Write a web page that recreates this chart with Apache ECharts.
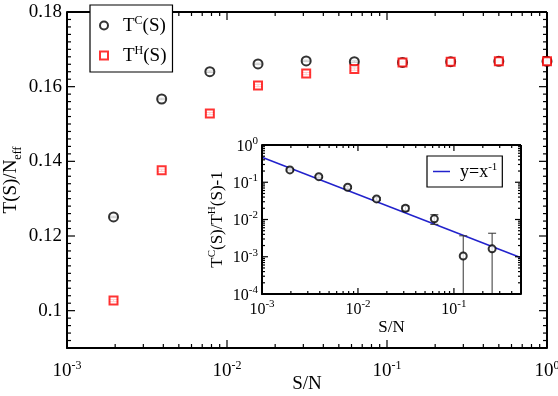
<!DOCTYPE html>
<html><head><meta charset="utf-8">
<script src="https://cdn.jsdelivr.net/npm/echarts@6/dist/echarts.min.js"></script>
<style>html,body{margin:0;padding:0;background:#fff}#c{width:558px;height:396px}</style>
</head><body><div id="c"></div>
<script>
// ---- data ----
const sizeRatio = [0.001953125, 0.00390625, 0.0078125, 0.015625, 0.03125, 0.0625, 0.125, 0.25, 0.5, 1];
const tCold = [0.1251, 0.1567, 0.1640, 0.1661, 0.1669, 0.1667, 0.1665, 0.1667, 0.1668, 0.1668];
const tColdErr = [0.0002, 0.0002, 0.0002, 0.0002, 0.0002, 0.0002, 0.0002, 0.0002, 0.0002, 0.0002];
const tHot = [0.1027, 0.1376, 0.1528, 0.1603, 0.1635, 0.1647, 0.1665, 0.1667, 0.1668, 0.1668];
const tHotErr = [0.0003, 0.0003, 0.0003, 0.0003, 0.0003, 0.0003, 0.0003, 0.0003, 0.0003, 0.0003];
const insetX = [0.001953125, 0.00390625, 0.0078125, 0.015625, 0.03125, 0.0625, 0.125, 0.25];
const insetRatio = [0.214, 0.141, 0.0735, 0.0357, 0.020, 0.0104, 0.00105, 0.00163];
const insetErr = [0.012, 0.008, 0.005, 0.003, 0.003, 0.003, 0.0026, 0.00265];
const fitX = [0.001, 0.5];
const fitY = [0.47, 0.00094];
const mainYLabels = [0.1, 0.12, 0.14, 0.16, 0.18];
const mainXExp = [-3, -2, -1, 0];
const insetXExp = [-3, -2, -1];
const insetYExp = [-4, -3, -2, -1, 0];

// ---- helpers ----
const FONT = 'Liberation Serif';
const L = Math.log10;
function logMinor(d0, d1, maxV) {
  const out = [];
  for (let d = d0; d < d1; d++) for (let k = 2; k <= 9; k++) {
    const v = d + L(k);
    if (maxV === undefined || v <= maxV + 1e-9) out.push(v);
  }
  return out;
}
function rich(big, small, sup) {
  return {
    b: {fontFamily: FONT, fontSize: big, color: '#000', verticalAlign: 'bottom'},
    s: {fontFamily: FONT, fontSize: small, color: '#000', verticalAlign: 'bottom', padding: [0, 0, sup, 0]}
  };
}
function mainYMinor() {
  const out = [];
  for (let i = 1; i < 45; i++) { if (i % 10 !== 5) out.push(+(0.09 + i * 0.002).toFixed(4)); }
  return out;
}

function errRender(cap, color) {
  return function (params, api) {
    const x = api.value(0), lo = api.value(1), hi = api.value(2), clamped = api.value(3);
    const p1 = api.coord([x, lo]), p2 = api.coord([x, hi]);
    const st = {stroke: color, lineWidth: 1};
    const ch = [
      {type: 'line', shape: {x1: p1[0], y1: p1[1], x2: p2[0], y2: p2[1]}, style: st},
      {type: 'line', shape: {x1: p2[0] - cap, y1: p2[1], x2: p2[0] + cap, y2: p2[1]}, style: st}
    ];
    if (!clamped) ch.push({type: 'line', shape: {x1: p1[0] - cap, y1: p1[1], x2: p1[0] + cap, y2: p1[1]}, style: st});
    return {type: 'group', children: ch};
  };
}

// frame + inward ticks on all four sides, placed through the axes' scales (api.coord only)
function frameRender(x0, x1, y0, y1) {
  return function (params, api) {
    const dir = api.value(2), len = api.value(3);
    const st = {stroke: '#000', lineWidth: 1.2};
    if (dir === 0) {
      const v = api.value(0);
      const pb = api.coord([v, y0]), pt = api.coord([v, y1]);
      return {type: 'group', children: [
        {type: 'line', shape: {x1: pb[0], y1: pb[1], x2: pb[0], y2: pb[1] - len}, style: st},
        {type: 'line', shape: {x1: pt[0], y1: pt[1], x2: pt[0], y2: pt[1] + len}, style: st}]};
    }
    if (dir === 1) {
      const v = api.value(1);
      const pl = api.coord([x0, v]), pr = api.coord([x1, v]);
      return {type: 'group', children: [
        {type: 'line', shape: {x1: pl[0], y1: pl[1], x2: pl[0] + len, y2: pl[1]}, style: st},
        {type: 'line', shape: {x1: pr[0], y1: pr[1], x2: pr[0] - len, y2: pr[1]}, style: st}]};
    }
    const a = api.coord([x0, y1]), c = api.coord([x1, y0]);
    const fs = {stroke: '#000', lineWidth: 2};
    return {type: 'group', children: [
      {type: 'line', shape: {x1: a[0], y1: a[1], x2: c[0], y2: a[1]}, style: fs},
      {type: 'line', shape: {x1: c[0], y1: a[1], x2: c[0], y2: c[1]}, style: fs},
      {type: 'line', shape: {x1: a[0], y1: c[1], x2: c[0], y2: c[1]}, style: fs},
      {type: 'line', shape: {x1: a[0], y1: a[1], x2: a[0], y2: c[1]}, style: fs}]};
  };
}
function frameData(xMaj, xMin, yMaj, yMin, xMid, yMid, majLen, minLen) {
  return [].concat(
    xMaj.map(v => [v, yMid, 0, majLen]), xMin.map(v => [v, yMid, 0, minLen]),
    yMaj.map(v => [xMid, v, 1, majLen]), yMin.map(v => [xMid, v, 1, minLen]),
    [[xMid, yMid, 2, 0]]);
}

function ax(grid, min, max, pos, labels, labelFn, extra) {
  return Object.assign({
    type: 'value', gridIndex: grid, min: min, max: max, position: pos,
    axisLine: {show: true, onZero: false, lineStyle: {color: '#000', width: 2}},
    splitLine: {show: false},
    axisTick: {show: false},
    axisLabel: Object.assign({show: true, customValues: labels.slice()}, labelFn())
  }, extra || {});
}

const expFmt = v => '{b|10}{s|' + Math.round(v) + '}';
const mainXLabel = () => ({margin: 12, formatter: expFmt, rich: rich(19, 12, 9)});
const insetXLabel = () => ({margin: 5, formatter: expFmt, rich: rich(16, 11, 8)});
const insetYLabel = () => ({margin: 4, formatter: expFmt, rich: rich(16, 11, 8)});
const mainYLabel = () => ({margin: 5, fontFamily: FONT, fontSize: 19, color: '#000',
  formatter: v => (Math.abs(v - 0.1) < 1e-9 ? '0.1' : v.toFixed(2))});

const insetXMax = L(0.5);

const xAxes = [
  ax(0, -3, 0, 'bottom', mainXExp, mainXLabel, {
    name: 'S/N', nameLocation: 'middle', nameGap: 27, nameMoveOverlap: false,
    nameTextStyle: {fontFamily: FONT, fontSize: 19, color: '#000'}}),
  ax(1, -3, insetXMax, 'bottom', insetXExp, insetXLabel, {
    name: 'S/N', nameLocation: 'middle', nameGap: 25, nameMoveOverlap: false,
    nameTextStyle: {fontFamily: FONT, fontSize: 17, color: '#000'}})
];
const yAxes = [
  ax(0, 0.09, 0.18, 'left', mainYLabels, mainYLabel, {
    name: '{b|T(S)/N}{u|eff}', nameLocation: 'middle', nameGap: 43, nameRotate: 90, nameMoveOverlap: false,
    nameTextStyle: {rich: {
      b: {fontFamily: FONT, fontSize: 19, color: '#000', verticalAlign: 'bottom', padding: [0, 0, 3, 0]},
      u: {fontFamily: FONT, fontSize: 12, color: '#000', verticalAlign: 'bottom'}}}}),
  ax(1, -4, 0, 'left', insetYExp, insetYLabel, {
    name: '{b|T}{s|C}{b|(S)/T}{s|H}{b|(S)-1}', nameLocation: 'middle', nameGap: 36, nameRotate: 90,
    nameMoveOverlap: false, nameTextStyle: {rich: rich(17, 11, 8)}})
];

const lx = sizeRatio.map(v => L(v));
const errC = sizeRatio.map((v, i) => [L(v), tCold[i] - tColdErr[i], tCold[i] + tColdErr[i], 0]);
const errH = sizeRatio.map((v, i) => [L(v), tHot[i] - tHotErr[i], tHot[i] + tHotErr[i], 0]);
const errI = insetX.map((v, i) => {
  const lo = insetRatio[i] - insetErr[i];
  const clamped = lo <= 1e-4;
  return [L(v), clamped ? -4 : L(lo), L(insetRatio[i] + insetErr[i]), clamped ? 1 : 0];
});
const mainFrame = frameData(mainXExp, logMinor(-3, 0), mainYLabels, mainYMinor(), -1.5, 0.135, 8, 4);
const insetFrame = frameData(insetXExp, logMinor(-3, 0, insetXMax), insetYExp, logMinor(-4, 0), -2, -2, 6, 3);

const chart = echarts.init(document.getElementById('c'));
chart.setOption({
  animation: false,
  grid: [
    {left: 67, top: 12, width: 480, height: 336, outerBoundsMode: 'none'},
    {left: 262, top: 145, width: 259, height: 149, show: true, backgroundColor: '#fff', borderWidth: 0,
      outerBoundsMode: 'none'}
  ],
  xAxis: xAxes,
  yAxis: yAxes,
  legend: [
    {
      data: ['TC', 'TH'], orient: 'vertical', left: 90, top: 5,
      padding: [10, 6, 6, 9], itemWidth: 8, itemHeight: 8, itemGap: 9,
      borderColor: '#000', borderWidth: 1.2, backgroundColor: '#fff',
      formatter: n => n === 'TC' ? '{p|}{b|T}{s|C}{b|(S)}' : '{p|}{b|T}{s|H}{b|(S)}',
      textStyle: {rich: Object.assign({p: {width: 10}}, rich(19, 12, 9))}
    },
    {
      data: [{name: 'fit', icon: 'rect'}], orient: 'vertical', left: 427, top: 156, z: 10,
      padding: [6, 5, 6, 6], itemWidth: 17, itemHeight: 1.5,
      borderColor: '#000', borderWidth: 1.2, backgroundColor: '#fff',
      formatter: () => '{p|}{b|y=x}{s|-1}',
      textStyle: {rich: Object.assign({p: {width: 5}}, rich(18, 11, 8))}
    }
  ],
  series: [
    {type: 'custom', xAxisIndex: 0, yAxisIndex: 0, renderItem: frameRender(-3, 0, 0.09, 0.18),
      data: mainFrame, silent: true, clip: false, z: 2},
    {type: 'custom', xAxisIndex: 0, yAxisIndex: 0, renderItem: errRender(4, '#000'), data: errC, silent: true, z: 2},
    {type: 'custom', xAxisIndex: 0, yAxisIndex: 0, renderItem: errRender(4, '#ff0000'), data: errH, silent: true, z: 2},
    {name: 'TC', type: 'scatter', xAxisIndex: 0, yAxisIndex: 0, symbol: 'emptyCircle', symbolSize: 9,
      itemStyle: {color: '#000', borderColor: '#000', borderWidth: 1}, data: lx.map((x, i) => [x, tCold[i]]), z: 3},
    {name: 'TH', type: 'scatter', xAxisIndex: 0, yAxisIndex: 0, symbol: 'emptyRect', symbolSize: 8,
      itemStyle: {color: '#ff0000', borderColor: '#ff0000', borderWidth: 1}, data: lx.map((x, i) => [x, tHot[i]]), z: 3},
    {name: 'fit', type: 'line', xAxisIndex: 1, yAxisIndex: 1, symbol: 'none', showSymbol: false,
      lineStyle: {color: '#2222cc', width: 1.5}, itemStyle: {color: '#2222cc'},
      data: fitX.map((x, i) => [L(x), L(fitY[i])]), z: 4},
    {type: 'custom', xAxisIndex: 1, yAxisIndex: 1, renderItem: errRender(4, '#333'), data: errI, silent: true, z: 5},
    {name: 'ratio', type: 'scatter', xAxisIndex: 1, yAxisIndex: 1, symbol: 'emptyCircle', symbolSize: 7,
      itemStyle: {color: '#000', borderColor: '#000', borderWidth: 1},
      data: insetX.map((x, i) => [L(x), L(insetRatio[i])]), z: 6},
    {type: 'custom', xAxisIndex: 1, yAxisIndex: 1, renderItem: frameRender(-3, insetXMax, -4, 0),
      data: insetFrame, silent: true, clip: false, z: 7}
  ]
});
</script>
</body></html>
